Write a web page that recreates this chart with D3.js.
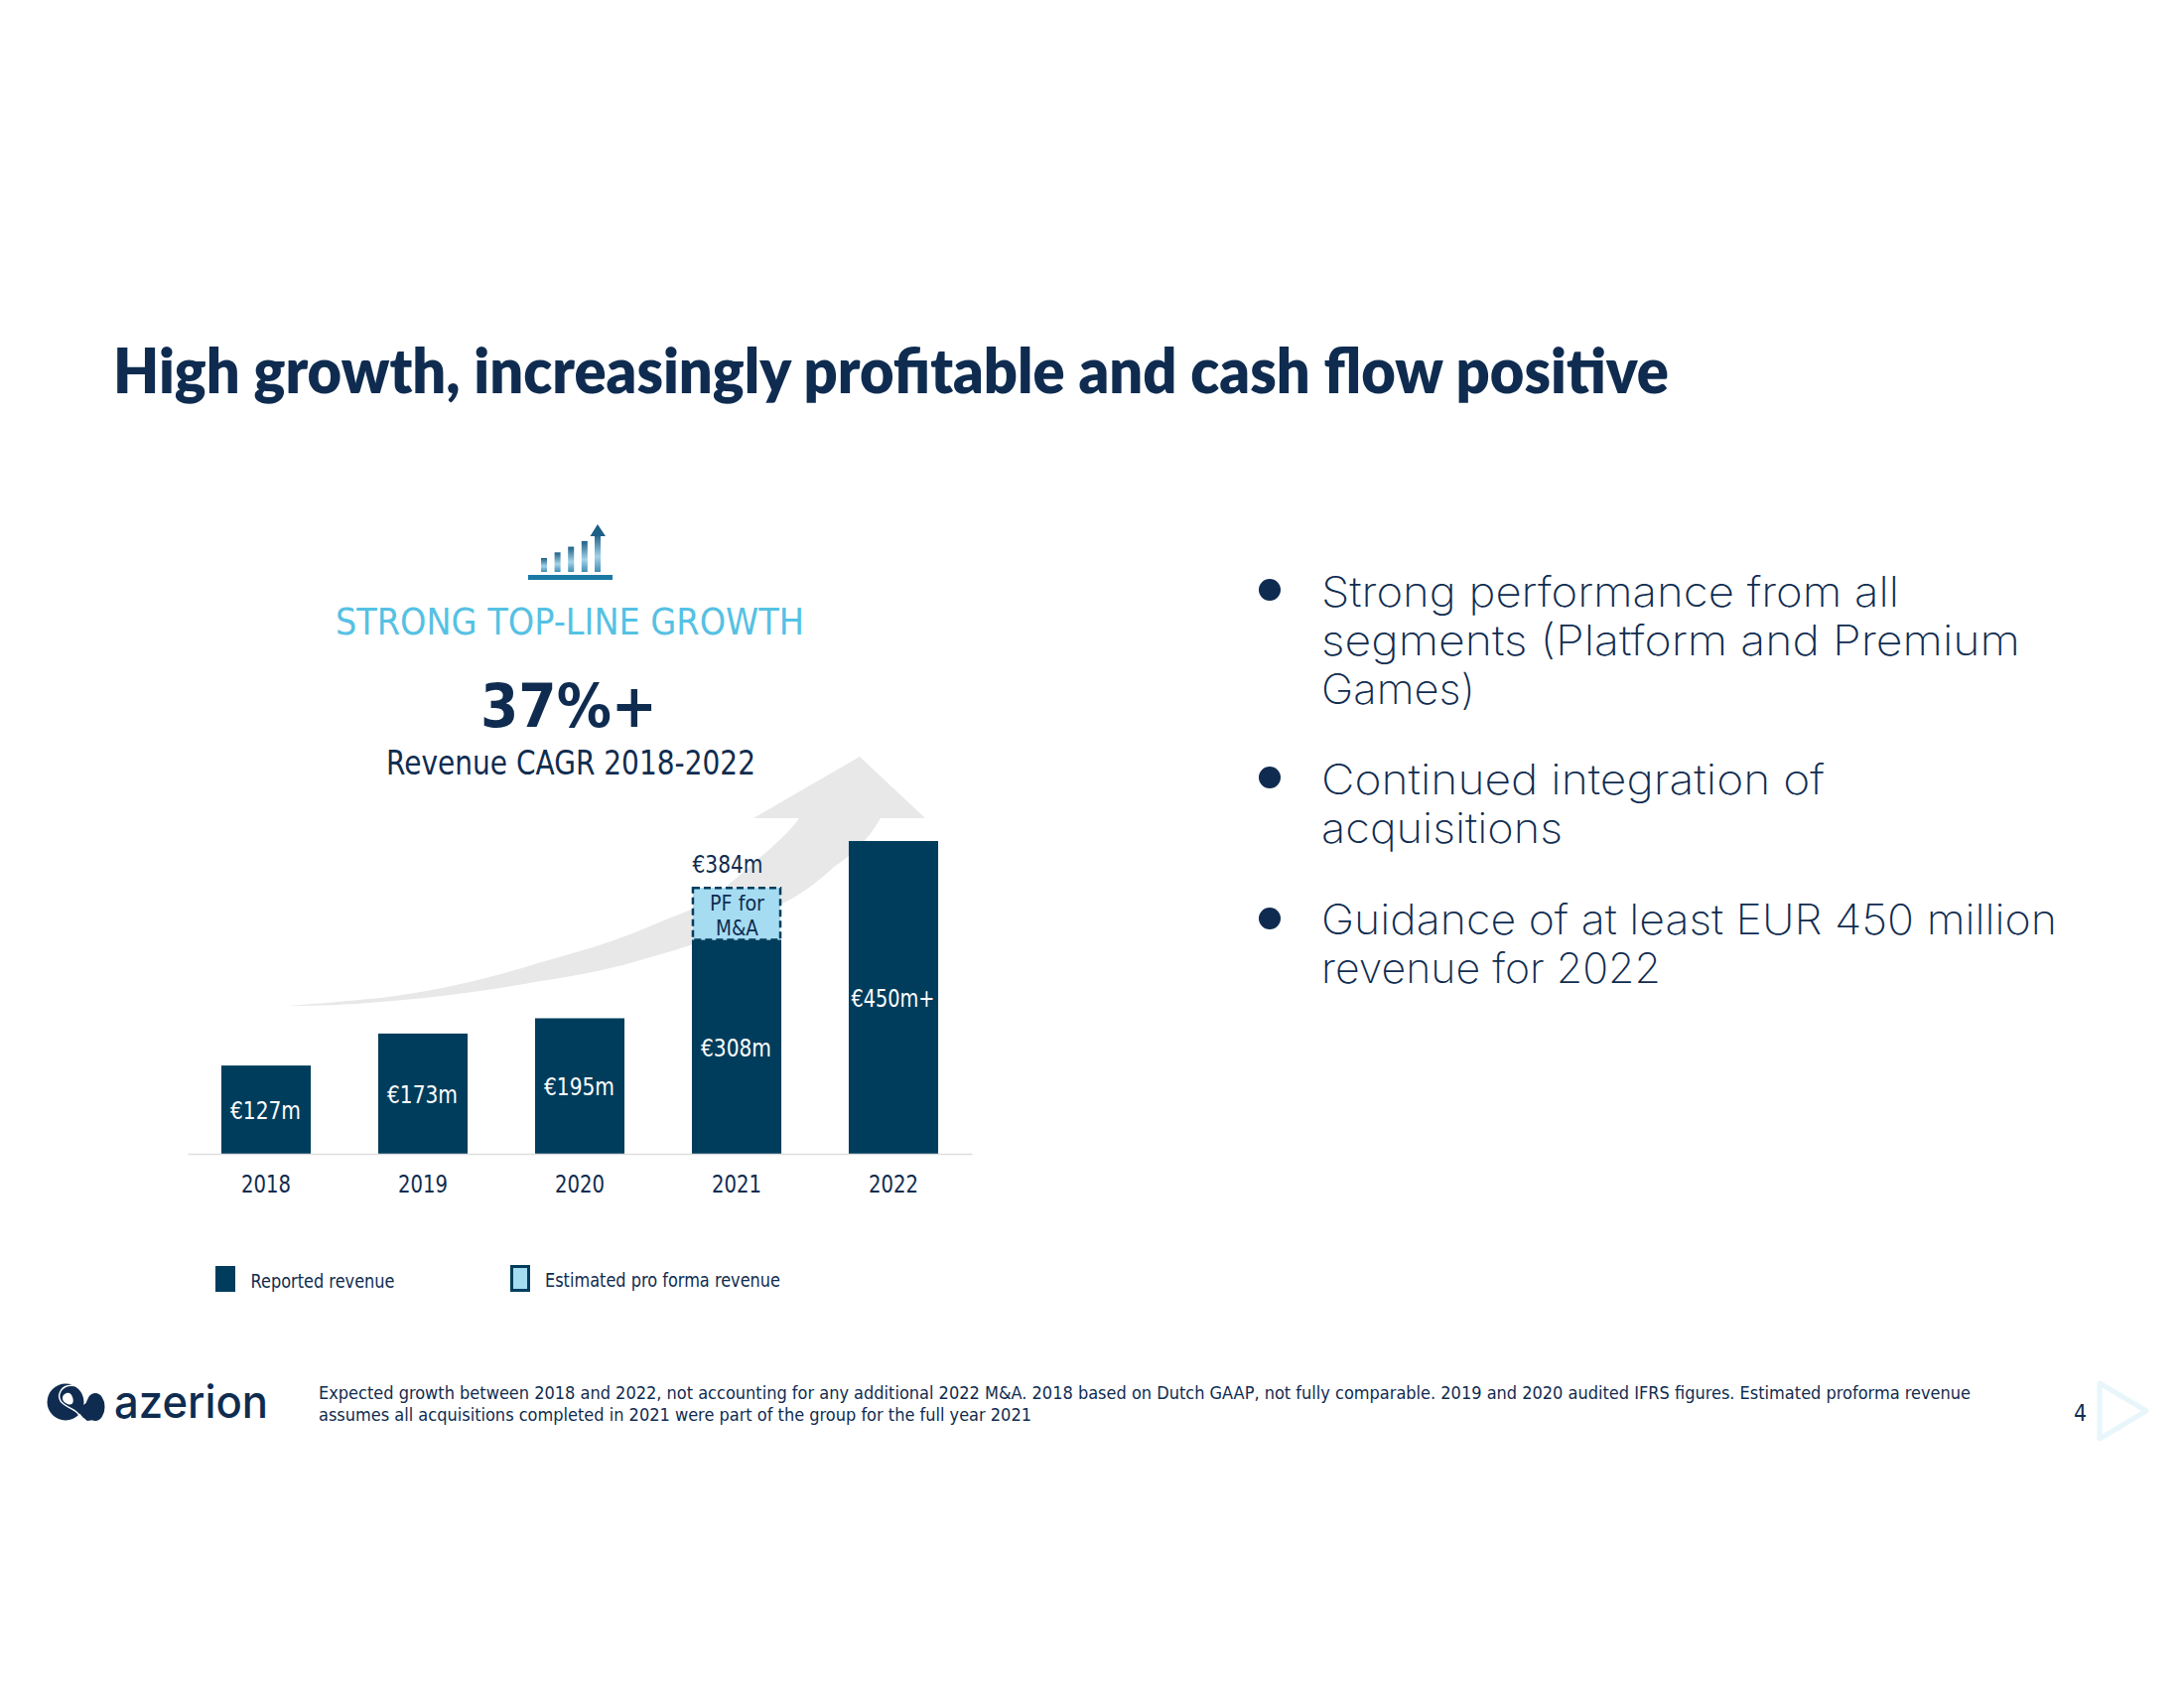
<!DOCTYPE html>
<html><head><meta charset="utf-8">
<script src="https://cdn.jsdelivr.net/npm/d3@7"></script>
<style>html,body{margin:0;padding:0;background:#fff}svg{display:block}</style>
</head><body><svg id="c" width="2200" height="1700"></svg>
<script>
const years = ["2018","2019","2020","2021","2022"];
const reported = [127,173,195,308,450];
const reportedLabels = ["€127m","€173m","€195m","€308m","€450m+"];
const proFormaYear = "2021";
const proFormaTotal = 384;
const proFormaLabel = "€384m";
const bulletGroups = [
  ["Strong performance from all","segments (Platform and Premium","Games)"],
  ["Continued integration of","acquisitions"],
  ["Guidance of at least EUR 450 million","revenue for 2022"]
];
const iconBars = [1,2,3,4];

const NAVY="#0f2c50", BAR="#003d5c", PF="#a6dcf2";
const SANS="'DejaVu Sans'";
const svg=d3.select("#c");
const defs=svg.append("defs");
const grad=defs.append("linearGradient").attr("id","ig").attr("x1",0).attr("x2",0).attr("y1",0).attr("y2",1);
[["0%","#1d5f86"],["60%","#a4d3e8"],["100%","#3f8fb5"]].forEach(s=>grad.append("stop").attr("offset",s[0]).attr("stop-color",s[1]));

function txt(s,x,y,size,w,o={}){
  const t=svg.append("text").text(s).attr("x",x).attr("y",y).attr("font-size",size)
    .attr("font-family",o.family||SANS).attr("fill",o.fill||NAVY)
    .attr("font-weight",o.weight||400);
  if(w)t.attr("textLength",w).attr("lengthAdjust",o.adjust||"spacingAndGlyphs");
  return t;
}
// title
txt("High growth, increasingly profitable and cash flow positive",114,396,62,1567,{family:"Lato",weight:800});

// growth arrow decoration
svg.append("path").attr("fill","#e8e8e8").attr("d",
 "M288,1013 C320,1011 350,1008 384,1005 C440,998 495,985 545,969 C585,958 620,948 652,934 C670,926 685,921 698,915 C725,900 745,882 759,869 C780,852 795,838 805,824 L759,824 L866,762 L932,824 L887,824 C875,845 860,860 840,873 C822,890 805,902 786,911 C745,935 700,952 652,965 C620,975 585,982 545,988 C490,998 435,1005 384,1009 C350,1012 320,1013 288,1013 Z");

// icon
iconBars.forEach((b,i)=>{
  const h=14+i*5.7;
  svg.append("rect").attr("x",545+i*13.6).attr("y",576-h).attr("width",6).attr("height",h).attr("fill","url(#ig)");
});
svg.append("rect").attr("x",599).attr("y",538).attr("width",6).attr("height",38).attr("fill","url(#ig)");
svg.append("path").attr("d","M594.5,540 L602,528 L610,540 Z").attr("fill","#1d5f86");
svg.append("rect").attr("x",532).attr("y",579).attr("width",85).attr("height",5).attr("fill","#1a7aa5");

txt("STRONG TOP-LINE GROWTH",338,639,38,472,{fill:"#55c1e3"});
txt("37%+",484,732,61,178,{weight:700});
txt("Revenue CAGR 2018-2022",389,780,33,372);

// chart
const x=d3.scaleBand().domain(years).range([189,979]).paddingInner(0.43).paddingOuter(0.215);
const y=d3.scaleLinear().domain([0,450]).range([1162,847]);
svg.append("g").selectAll("rect").data(years).join("rect")
  .attr("x",d=>x(d)).attr("width",x.bandwidth())
  .attr("y",(d,i)=>y(reported[i])).attr("height",(d,i)=>y(0)-y(reported[i])).attr("fill",BAR);
svg.append("rect").attr("x",x(proFormaYear)+1).attr("width",x.bandwidth()-2)
  .attr("y",y(proFormaTotal)+1).attr("height",y(reported[years.indexOf(proFormaYear)])-y(proFormaTotal)-1)
  .attr("fill",PF).attr("stroke",BAR).attr("stroke-width",2.5).attr("stroke-dasharray","7 4");
const ax=svg.append("g").attr("transform",`translate(0,${y(0)})`).call(d3.axisBottom(x).tickSize(0).tickPadding(0));
ax.select(".domain").attr("stroke","#dedede").attr("stroke-width",1.5);
ax.selectAll("text").remove();
years.forEach(d=>txt(d,x(d)+x.bandwidth()/2,1201,24,50).attr("text-anchor","middle"));
reported.forEach((v,i)=>{
  const w=i===4?84:71;
  txt(reportedLabels[i],x(years[i])+x.bandwidth()/2-0.5,y(v/2)+9.5,24,w,{fill:"#ffffff"}).attr("text-anchor","middle");
});
txt(proFormaLabel,x(proFormaYear)+x.bandwidth()/2-9,y(proFormaTotal)-14,24,71).attr("text-anchor","middle");
txt("PF for",x(proFormaYear)+x.bandwidth()/2+0.5,917,21,55).attr("text-anchor","middle");
txt("M&A",x(proFormaYear)+x.bandwidth()/2+0.5,942,21,43).attr("text-anchor","middle");

// legend
svg.append("rect").attr("x",217).attr("y",1275).attr("width",20).attr("height",26).attr("fill",BAR);
txt("Reported revenue",252.5,1297,19,145);
svg.append("rect").attr("x",515.5).attr("y",1275.5).attr("width",17).attr("height",24).attr("fill",PF).attr("stroke",BAR).attr("stroke-width",3);
txt("Estimated pro forma revenue",549,1296,19,237);

// bullets
const lineY=[[611,660,709],[800,849],[941,990]];
const lineW=[[582,704,155],[507,243],[741,342]];
const dotY=[594,783,925];
bulletGroups.forEach((g,i)=>{
  svg.append("circle").attr("cx",1279).attr("cy",dotY[i]).attr("r",11).attr("fill",NAVY);
  g.forEach((l,j)=>txt(l,1331,lineY[i][j],42,lineW[i][j],{family:"Inter",weight:200,fill:"#0f2c50"}));
});

// footer
const logo=svg.append("g").attr("fill",NAVY);
logo.append("circle").attr("cx",66).attr("cy",1412).attr("r",18.5);
logo.append("ellipse").attr("cx",96).attr("cy",1417).attr("rx",9.5).attr("ry",14);
logo.append("path").attr("d","M72,1424 C80,1418 78,1424 88,1431 L100,1429 L88,1412 Z");
logo.append("path").attr("d","M78,1396 C60,1392 55,1408 64,1414 C72,1420 78,1420 80,1426").attr("fill","none").attr("stroke","#fff").attr("stroke-width",1.5);
logo.append("path").attr("d","M67,1403 C61,1405 62,1412 68,1414 C73,1416 75,1412 73,1407 C72,1404 70,1402 67,1403 Z").attr("fill","#fff");
txt("azerion",115,1428,45,155,{family:"Inter",weight:500});

txt("Expected growth between 2018 and 2022, not accounting for any additional 2022 M&A. 2018 based on Dutch GAAP, not fully comparable. 2019 and 2020 audited IFRS figures. Estimated proforma revenue",321,1409,18.5,1664);
txt("assumes all acquisitions completed in 2021 were part of the group for the full year 2021",321,1431,18.5,718);
txt("4",2089,1431,23,13);
svg.append("path").attr("d","M2115,1393 L2162,1421 L2115,1449 Z").attr("fill","none").attr("stroke","#e8f6fb").attr("stroke-width",5).attr("stroke-linejoin","round");
</script></body></html>
